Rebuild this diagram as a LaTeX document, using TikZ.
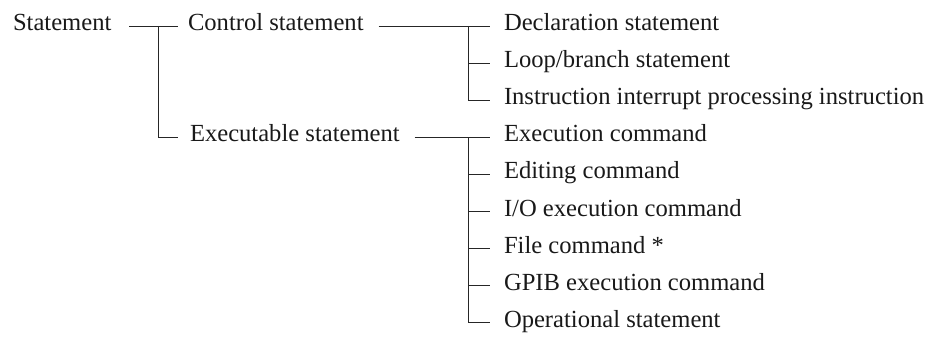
\documentclass[tikz,border=0pt]{standalone}
\usepackage{fontspec}
\setmainfont{Liberation Serif}
\usetikzlibrary{calc}
\tikzset{
  lbl/.style={anchor=base west, inner sep=0pt, outer sep=0pt, text=black!90, font=\fontsize{24.6}{28}\selectfont},
  conn/.style={draw=black!85, line width=0.9pt}
}
\begin{document}
\begin{tikzpicture}[x=1pt, y=-1pt]
\useasboundingbox (0,0) rectangle (931,337);
% row line heights
\def\ya{26}\def\yb{63.1}\def\yc{100.2}\def\yd{137.3}\def\ye{174.4}
\def\yf{211.5}\def\yg{248.6}\def\yh{285.7}\def\yi{322.8}
% level 1 and 2
\node[lbl] (s) at (13,\ya+4.5) {Statement};
\node[lbl] (c) at (188,\ya+4.5) {Control statement};
\node[lbl] (e) at (190,\yd+4.5) {Executable statement};
% level 3
\node[lbl] (r1) at (504,\ya+4.5) {Declaration statement};
\node[lbl] (r2) at (504,\yb+4.5) {Loop/branch statement};
\node[lbl] (r3) at (504,\yc+4.5) {Instruction interrupt processing instruction};
\node[lbl] (r4) at (504,\yd+4.5) {Execution command};
\node[lbl] (r5) at (504,\ye+4.5) {Editing command};
\node[lbl] (r6) at (504,\yf+4.5) {I/O execution command};
\node[lbl] (r7) at (504,\yg+4.5) {File command *};
\node[lbl] (r8) at (504,\yh+4.5) {GPIB execution command};
\node[lbl] (r9) at (504,\yi+4.5) {Operational statement};
% junctions
\coordinate (j1) at (158,\ya);
\coordinate (jE) at (158,\yd);
\coordinate (k1) at (468,\ya);
\coordinate (m1) at (468,\yd);
\foreach \i/\y in {1/\ya,2/\yb,3/\yc,4/\yd,5/\ye,6/\yf,7/\yg,8/\yh,9/\yi}{
  \coordinate (b\i) at (490,\y);
}
% Statement branches
\draw[conn] ($(s.east|-j1)+(18,0)$) -- ($(c.west|-j1)+(-10,0)$);
\draw[conn] (j1) |- ($(e.west|-jE)+(-12,0)$);
% Control statement branches
\draw[conn] ($(c.east|-k1)+(15,0)$) -- (b1);
\draw[conn] (k1) |- (b3);
\draw[conn] (k1|-b2) -- (b2);
% Executable statement branches
\draw[conn] ($(e.east|-m1)+(15,0)$) -- (b4);
\draw[conn] (m1) |- (b9);
\foreach \i in {5,6,7,8}{
  \draw[conn] (m1|-b\i) -- (b\i);
}
\end{tikzpicture}
\end{document}
